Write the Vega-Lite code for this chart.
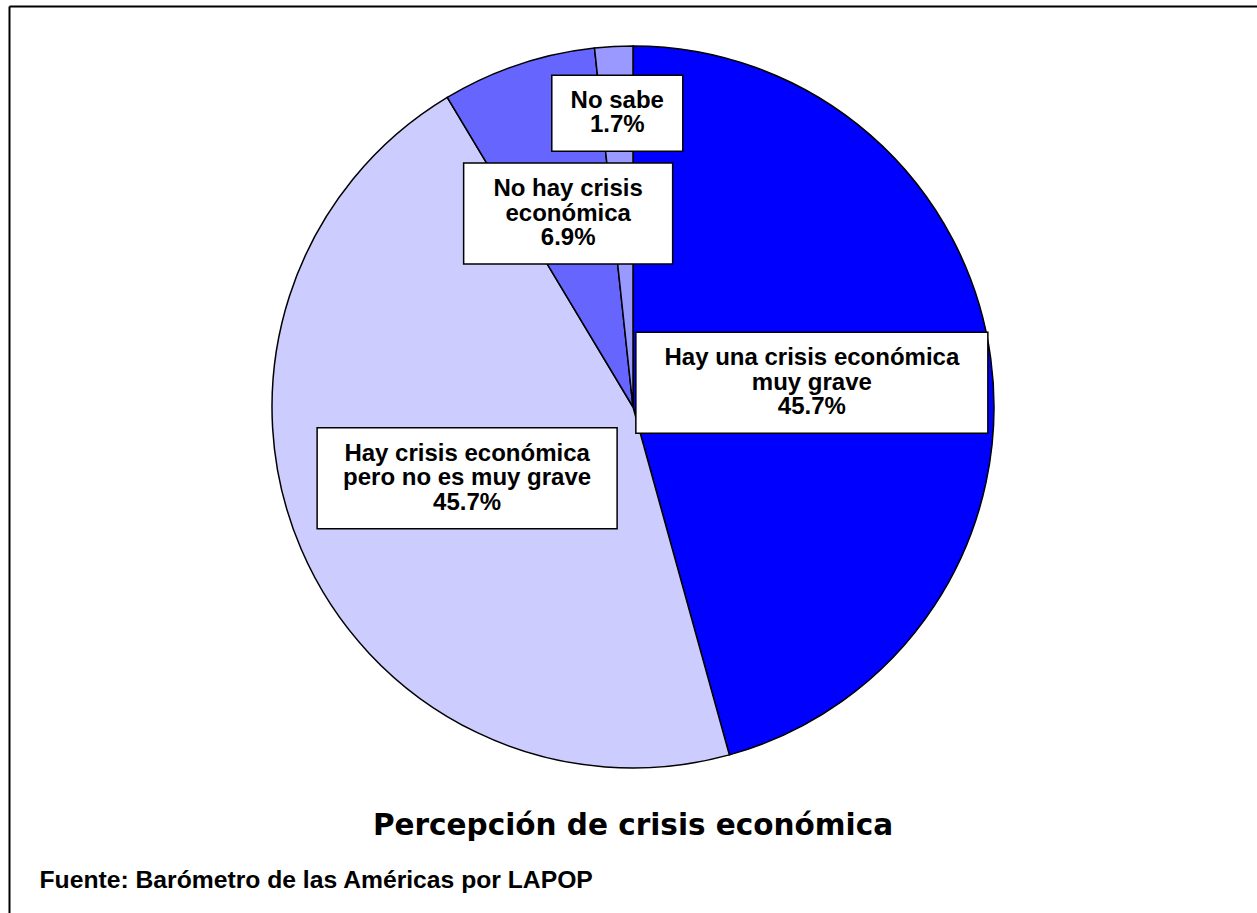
{
  "$schema": "https://vega.github.io/schema/vega-lite/v6.json",
  "width": 1248,
  "height": 907,
  "autosize": {"type": "none"},
  "padding": {"left": 9, "top": 6, "right": 0, "bottom": 0},
  "background": "white",
  "config": {"view": {"stroke": null}},
  "title": {
    "text": "Percepción de crisis económica",
    "orient": "bottom",
    "anchor": "middle",
    "frame": "group",
    "offset": -87,
    "baseline": "middle",
    "font": "DejaVu Sans",
    "fontSize": 29.5,
    "fontWeight": "bold",
    "color": "black"
  },
  "data": {
    "values": [
      {"orden": 1, "categoria": "Hay una crisis económica muy grave", "etiqueta": "Hay una crisis económica\nmuy grave", "pct": 45.7},
      {"orden": 2, "categoria": "Hay crisis económica pero no es muy grave", "etiqueta": "Hay crisis económica\npero no es muy grave", "pct": 45.7},
      {"orden": 3, "categoria": "No hay crisis económica", "etiqueta": "No hay crisis\neconómica", "pct": 6.9},
      {"orden": 4, "categoria": "No sabe", "etiqueta": "No sabe", "pct": 1.7}
    ]
  },
  "transform": [
    {"stack": "pct", "groupby": [], "sort": [{"field": "orden", "order": "ascending"}], "as": ["p0", "p1"]},
    {"calculate": "2 * PI * (datum.p0 + datum.p1) / 2 / 100", "as": "ang"},
    {"calculate": "datum.pct < 3 ? 0.815 : (datum.pct < 10 ? 0.565 : 0.5)", "as": "lr"},
    {"calculate": "datum.lr * sin(datum.ang)", "as": "cx"},
    {"calculate": "datum.lr * cos(datum.ang)", "as": "cy"},
    {"calculate": "max(length(split(datum.etiqueta + '\\n\\n', '\\n')[0]), length(split(datum.etiqueta + '\\n\\n', '\\n')[1]))", "as": "maxlen"},
    {"calculate": "length(split(datum.etiqueta, '\\n')) + 1", "as": "nl"},
    {"calculate": "(13 * datum.maxlen + 40) / 361 / 2", "as": "bw"},
    {"calculate": "(25 * datum.nl + 26) / 361 / 2", "as": "bh"},
    {"calculate": "datum.cx - datum.bw", "as": "bx0"},
    {"calculate": "datum.cx + datum.bw", "as": "bx1"},
    {"calculate": "datum.cy - datum.bh", "as": "by0"},
    {"calculate": "datum.cy + datum.bh", "as": "by1"},
    {"calculate": "datum.cy + (datum.nl - 1) / 2 * 24.5 / 361", "as": "ty"},
    {"calculate": "datum.etiqueta + '\\n' + format(datum.pct, '.1f') + '%'", "as": "texto"}
  ],
  "layer": [
    {
      "mark": {"type": "arc", "outerRadius": 361, "stroke": "black", "strokeWidth": 1.5},
      "encoding": {
        "x": {
          "datum": 0,
          "type": "quantitative",
          "scale": {"domain": [-1.7285, 1.7285], "nice": false, "zero": false},
          "axis": {"orient": "top", "domain": true, "domainColor": "black", "domainWidth": 2, "ticks": false, "labels": false, "grid": false, "title": null}
        },
        "y": {
          "datum": 0,
          "type": "quantitative",
          "scale": {"domain": [-1.4017, 1.1108], "nice": false, "zero": false},
          "axis": {
            "orient": "left", "domain": true, "domainColor": "black", "domainWidth": 2, "ticks": false, "labels": false, "grid": false,
            "title": "Fuente: Barómetro de las Américas por LAPOP",
            "titleAngle": 0, "titleX": 30, "titleY": 874, "titleAlign": "left", "titleBaseline": "middle",
            "titleFont": "Liberation Sans", "titleFontSize": 24.7, "titleFontWeight": "bold", "titleColor": "black"
          }
        },
        "theta": {"field": "pct", "type": "quantitative", "stack": true},
        "order": {"field": "orden", "type": "quantitative"},
        "color": {
          "field": "categoria",
          "type": "nominal",
          "scale": {
            "domain": ["Hay una crisis económica muy grave", "Hay crisis económica pero no es muy grave", "No hay crisis económica", "No sabe"],
            "range": ["#0000FF", "#CCCCFF", "#6666FF", "#9999FF"]
          },
          "legend": null
        }
      }
    },
    {
      "mark": {"type": "rect", "fill": "white", "stroke": "black", "strokeWidth": 1.5},
      "encoding": {
        "x": {"field": "bx0", "type": "quantitative"},
        "x2": {"field": "bx1"},
        "y": {"field": "by0", "type": "quantitative"},
        "y2": {"field": "by1"}
      }
    },
    {
      "mark": {"type": "text", "font": "Liberation Sans", "fontSize": 24, "fontWeight": "bold", "color": "black", "align": "center", "baseline": "middle", "lineBreak": "\n", "lineHeight": 24.5},
      "encoding": {
        "x": {"field": "cx", "type": "quantitative"},
        "y": {"field": "ty", "type": "quantitative"},
        "text": {"field": "texto", "type": "nominal"}
      }
    }
  ]
}
